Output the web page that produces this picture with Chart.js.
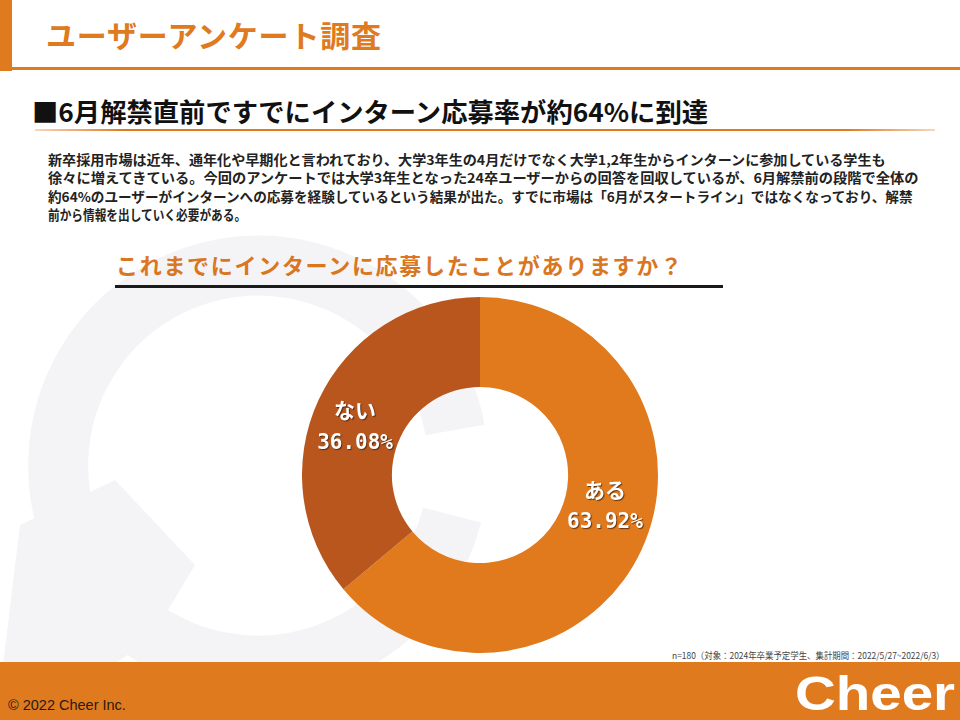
<!DOCTYPE html>
<html lang="ja">
<head>
<meta charset="utf-8">
<script src="https://cdn.jsdelivr.net/npm/chart.js@4"></script>
<style>
  html, body { margin: 0; padding: 0; }
  body { width: 960px; height: 720px; position: relative; overflow: hidden; background: #fff;
         font-family: "Noto Sans CJK JP", "Noto Sans", sans-serif; }
  .abs { position: absolute; white-space: nowrap; }
  #bar { left: 0; top: 0; width: 12px; height: 71px; background: #E07A1F; }
  #topline { left: 10px; top: 67px; width: 950px; height: 3px; background: #E07A1F; }
  #title { left: 46px; top: 12px; font-size: 30px; font-weight: 700; color: #E07A1F; letter-spacing: 0.8px; }
  #sub { left: 32px; top: 92px; font-size: 26px; font-weight: 700; color: #111; transform-origin: 0 0; }
  #subline { left: 35px; top: 129px; width: 900px; height: 2px;
             background: linear-gradient(90deg, rgba(224,122,31,0.3), #E07A1F 10%, #E07A1F 90%, rgba(224,122,31,0.3)); }
  #body { left: 48px; top: 150px; font-size: 13.5px; font-weight: 700; color: #222; line-height: 18.3px; }
  #body div { transform-origin: 0 0; }
  #question { left: 116px; top: 248px; font-size: 22px; font-weight: 700; color: #D9761F; letter-spacing: 1.7px; }
  #qline { left: 115px; top: 285px; width: 608px; height: 3px; background: #1a1a1a; }
  #chartBox { left: 302px; top: 297px; width: 356px; height: 356px; }
  #note { left: 672px; top: 649px; font-size: 9px; color: #444; transform-origin: 0 0; }
  #footer { left: 0; top: 662px; width: 960px; height: 58px; background: #E07A1F; }
  #copy { left: 8px; top: 697px; font-family: "Liberation Sans", Arial, sans-serif; font-size: 14.5px; color: #2a1a10; }
  #logo { left: 795px; top: 666px; font-family: "Liberation Sans", Arial, sans-serif; font-weight: 700;
          font-size: 48px; color: #fff; transform-origin: 0 0; }
  #wm { left: 0; top: 0; }
</style>
</head>
<body>
<svg id="wm" class="abs" width="960" height="720">
  <path d="M 455 430 A 200 200 0 1 0 452 515" fill="none" stroke="#F4F4F6" stroke-width="60"/>
  <path d="M 20 525 L 115 480 L 195 565 L 150 640 L 60 700 L 0 690 Z" fill="#F4F4F6"/>
</svg>
<div id="bar" class="abs"></div>
<div id="topline" class="abs"></div>
<div id="title" class="abs">ユーザーアンケート調査</div>
<div id="sub" class="abs">■6月解禁直前ですでにインターン応募率が約64%に到達</div>
<div id="subline" class="abs"></div>
<div id="body" class="abs">
  <div>新卒採用市場は近年、通年化や早期化と言われており、大学3年生の4月だけでなく大学1,2年生からインターンに参加している学生も</div>
  <div>徐々に増えてきている。今回のアンケートでは大学3年生となった24卒ユーザーからの回答を回収しているが、6月解禁前の段階で全体の</div>
  <div>約64%のユーザーがインターンへの応募を経験しているという結果が出た。すでに市場は「6月がスタートライン」ではなくなっており、解禁</div>
  <div>前から情報を出していく必要がある。</div>
</div>
<div id="question" class="abs">これまでにインターンに応募したことがありますか？</div>
<div id="qline" class="abs"></div>
<div id="chartBox" class="abs"><canvas id="myChart"></canvas></div>
<div id="note" class="abs">n=180（対象：2024年卒業予定学生、集計期間：2022/5/27~2022/6/3）</div>
<div id="footer" class="abs"></div>
<div id="copy" class="abs">© 2022 Cheer Inc.</div>
<div id="logo" class="abs">Cheer</div>

<script>
// answers and their share (%)
const categories = ['ある', 'ない'];
const shares = [63.92, 36.08];
const sliceColors = ['#E07A1D', '#B8561E'];

// squeeze text lines to the widths seen on the slide
function fitWidth(el, w) {
    const real = el.scrollWidth;
    if (real > 0) el.style.transform = 'scaleX(' + (w / real) + ')';
}
fitWidth(document.getElementById('sub'), 676);
fitWidth(document.getElementById('note'), 273);
fitWidth(document.getElementById('logo'), 160);
const bodyLines = document.querySelectorAll('#body div');
const bodyWidths = [838, 870, 865, 198];
bodyLines.forEach((d, i) => { d.style.display = 'inline-block'; fitWidth(d, bodyWidths[i]); d.style.display = 'block'; });

// labels inside each slice: name + percentage
const sliceLabels = {
    id: 'sliceLabels',
    afterDatasetsDraw(chart) {
        const c = chart.ctx;
        const meta = chart.getDatasetMeta(0);
        meta.data.forEach((arc, i) => {
            const p = arc.getProps(['x', 'y', 'startAngle', 'endAngle', 'innerRadius', 'outerRadius'], true);
            const mid = (p.startAngle + p.endAngle) / 2 - 0.13;
            const r = (p.innerRadius + p.outerRadius) / 2 - 2;
            const x = p.x + Math.cos(mid) * r;
            const y = p.y + Math.sin(mid) * r - 9;
            c.save();
            c.fillStyle = '#fff';
            c.textAlign = 'center';
            c.textBaseline = 'middle';
            c.shadowColor = 'rgba(60,30,10,0.75)';
            c.shadowOffsetX = 1;
            c.shadowOffsetY = 1;
            c.shadowBlur = 1;
            c.font = 'bold 21px "Noto Sans CJK JP"';
            c.fillText(categories[i], x, y - 16);
            c.font = 'bold 21px "DejaVu Sans Mono"';
            c.fillText(shares[i].toFixed(2) + '%', x, y + 17);
            c.restore();
        });
    }
};

const ctx = document.getElementById('myChart');
const myChart = new Chart(ctx, {
    type: 'doughnut',
    data: {
        labels: categories,
        datasets: [{
            data: shares,
            backgroundColor: sliceColors,
            borderWidth: 0
        }]
    },
    options: {
        responsive: true,
        maintainAspectRatio: false,
        animation: false,
        cutout: '49.5%',
        layout: { padding: 0 },
        plugins: {
            legend: { display: false },
            tooltip: { enabled: false }
        }
    },
    plugins: [sliceLabels]
});
</script>
</body>
</html>
